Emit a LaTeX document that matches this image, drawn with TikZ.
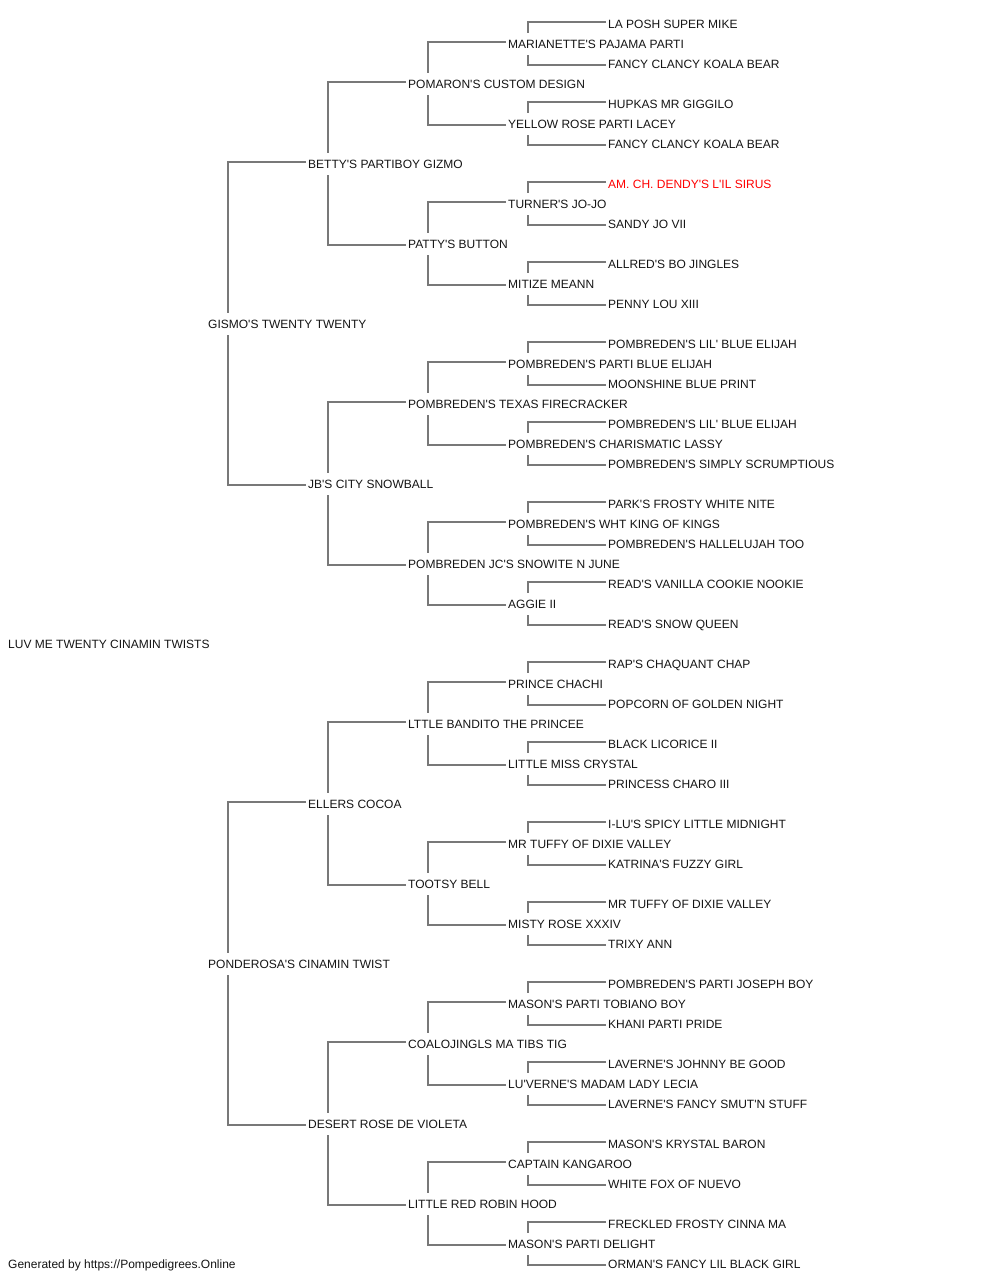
\documentclass[tikz,border=0pt]{standalone}
\usepackage{fontspec}
\setmainfont{Liberation Sans}[Ligatures=TeXOff]
\usetikzlibrary{calc}
\tikzset{>=latex}
\tikzset{
	horse/.style={anchor=west, inner xsep=2pt, inner ysep=6.5pt, text height=9pt, text depth=0pt,
		font=\fontsize{12}{14}\selectfont, text=black!92},
	champ/.style={horse, text=red},
	link/.style={draw=black!53, line width=1.6pt},
}

\begin{document}
\begin{tikzpicture}[x=1pt,y=-1pt]
			\useasboundingbox (0,0) rectangle (1000,1280);
			
			% root and footer
			\node[horse] (root) at (6,644) {LUV ME TWENTY CINAMIN TWISTS};
			\node[horse] (footer) at (6,1264) {Generated by https://Pompedigrees.Online};
			
			% generation 1
			\node[horse] (r15) at (206,324) {GISMO'S TWENTY TWENTY};
			\node[horse] (r47) at (206,964) {PONDEROSA'S CINAMIN TWIST};
			
			% generation 2
			\foreach \k/\name in {7/BETTY'S PARTIBOY GIZMO, 23/JB'S CITY SNOWBALL,
				39/ELLERS COCOA, 55/DESERT ROSE DE VIOLETA}
				\node[horse] (r\k) at (306,24+20*\k) {\name};
			
			% generation 3
			\foreach \k/\name in {3/POMARON'S CUSTOM DESIGN, 11/PATTY'S BUTTON,
				19/POMBREDEN'S TEXAS FIRECRACKER, 27/POMBREDEN JC'S SNOWITE N JUNE,
				35/LTTLE BANDITO THE PRINCEE, 43/TOOTSY BELL,
				51/COALOJINGLS MA TIBS TIG, 59/LITTLE RED ROBIN HOOD}
				\node[horse] (r\k) at (406,24+20*\k) {\name};
			
			% generation 4
			\foreach \k/\name in {1/MARIANETTE'S PAJAMA PARTI, 5/YELLOW ROSE PARTI LACEY,
				9/TURNER'S JO-JO, 13/MITIZE MEANN,
				17/POMBREDEN'S PARTI BLUE ELIJAH, 21/POMBREDEN'S CHARISMATIC LASSY,
				25/POMBREDEN'S WHT KING OF KINGS, 29/AGGIE II,
				33/PRINCE CHACHI, 37/LITTLE MISS CRYSTAL,
				41/MR TUFFY OF DIXIE VALLEY, 45/MISTY ROSE XXXIV,
				49/MASON'S PARTI TOBIANO BOY, 53/LU'VERNE'S MADAM LADY LECIA,
				57/CAPTAIN KANGAROO, 61/MASON'S PARTI DELIGHT}
				\node[horse] (r\k) at (506,24+20*\k) {\name};
			
			% generation 5
			\node[champ] (r8) at (606,184) {AM. CH. DENDY'S L'IL SIRUS};
			\foreach \k/\name in {0/LA POSH SUPER MIKE, 2/FANCY CLANCY KOALA BEAR,
				4/HUPKAS MR GIGGILO, 6/FANCY CLANCY KOALA BEAR,
				10/SANDY JO VII, 12/ALLRED'S BO JINGLES, 14/PENNY LOU XIII,
				16/POMBREDEN'S LIL' BLUE ELIJAH, 18/MOONSHINE BLUE PRINT,
				20/POMBREDEN'S LIL' BLUE ELIJAH, 22/POMBREDEN'S SIMPLY SCRUMPTIOUS,
				24/PARK'S FROSTY WHITE NITE, 26/POMBREDEN'S HALLELUJAH TOO,
				28/READ'S VANILLA COOKIE NOOKIE, 30/READ'S SNOW QUEEN,
				32/RAP'S CHAQUANT CHAP, 34/POPCORN OF GOLDEN NIGHT,
				36/BLACK LICORICE II, 38/PRINCESS CHARO III,
				40/I-LU'S SPICY LITTLE MIDNIGHT, 42/KATRINA'S FUZZY GIRL,
				44/MR TUFFY OF DIXIE VALLEY, 46/TRIXY ANN,
				48/POMBREDEN'S PARTI JOSEPH BOY, 50/KHANI PARTI PRIDE,
				52/LAVERNE'S JOHNNY BE GOOD, 54/LAVERNE'S FANCY SMUT'N STUFF,
				56/MASON'S KRYSTAL BARON, 58/WHITE FOX OF NUEVO,
				60/FRECKLED FROSTY CINNA MA, 62/ORMAN'S FANCY LIL BLACK GIRL}
				\node[horse] (r\k) at (606,24+20*\k) {\name};
			
			% parent -> sire (upper) and dam (lower)
			\foreach \p/\u/\l in {1/0/2, 5/4/6, 9/8/10, 13/12/14, 17/16/18, 21/20/22,
				25/24/26, 29/28/30, 33/32/34, 37/36/38, 41/40/42, 45/44/46,
				49/48/50, 53/52/54, 57/56/58, 61/60/62,
				3/1/5, 11/9/13, 19/17/21, 27/25/29, 35/33/37, 43/41/45, 51/49/53, 59/57/61,
				7/3/11, 23/19/27, 39/35/43, 55/51/59,
				15/7/23, 47/39/55}
			{
				\draw[link] ([yshift=2pt]r\u.west) -| ([xshift=22pt]r\p.north west);
				\draw[link] ([yshift=-1pt]r\l.west) -| ([xshift=22pt]r\p.south west);
			}
			
		\end{tikzpicture}
\end{document}
